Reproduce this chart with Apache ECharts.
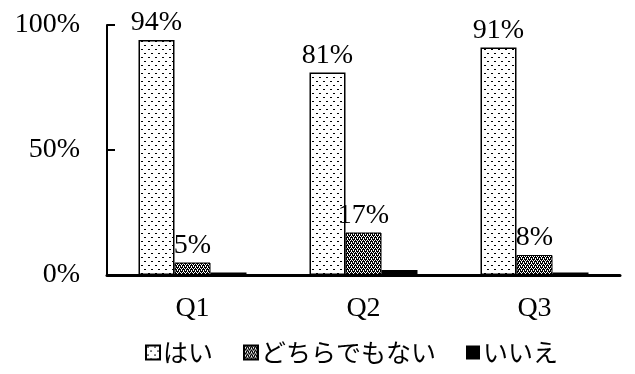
<!DOCTYPE html>
<html>
<head>
<meta charset="utf-8">
<script src="https://cdn.jsdelivr.net/npm/echarts@6/dist/echarts.min.js"></script>
<style>
html,body{margin:0;padding:0;background:#fff;}
#main{width:635px;height:374px;}
</style>
</head>
<body>
<div id="main"></div>
<script>
var categories = ['Q1', 'Q2', 'Q3'];
var yes_data = [94, 81, 91];
var neutral_data = [5, 17, 8];
var no_data = [1, 2, 1];
var y_ticks = [0, 50, 100];

// 点々の塗り
function dot_pattern(){
  var c = document.createElement('canvas');
  c.width = 7; c.height = 8;
  var ctx = c.getContext('2d');
  ctx.fillStyle = '#fff';
  ctx.fillRect(0, 0, 7, 8);
  ctx.fillStyle = '#000';
  ctx.fillRect(1, 1, 2, 1);
  ctx.fillRect(4, 5, 2, 1);
  return c;
}
// 格子の塗り
function check_pattern(){
  var c = document.createElement('canvas');
  c.width = 4; c.height = 4;
  var ctx = c.getContext('2d');
  ctx.fillStyle = '#000';
  ctx.fillRect(0, 0, 4, 4);
  ctx.fillStyle = '#fff';
  ctx.fillRect(0, 0, 1, 1);
  ctx.fillRect(2, 0, 1, 1);
  ctx.fillRect(1, 2, 1, 1);
  ctx.fillRect(3, 2, 1, 1);
  ctx.fillRect(1, 1, 1, 1);
  ctx.fillRect(3, 3, 1, 1);
  return c;
}

var serif = '"Liberation Serif", "DejaVu Serif", serif';
var labelStyle = {
  show: true,
  position: 'top',
  distance: 3,
  formatter: '{c}%',
  fontFamily: serif,
  fontSize: 28,
  color: '#000'
};

var myChart = echarts.init(document.getElementById('main'));
var option = {
  animation: false,
  grid: {left: 107, right: 15, top: 25, bottom: 99},
  legend: {
    left: 140,
    top: 335,
    itemWidth: 14,
    itemHeight: 14,
    itemGap: 30,
    icon: 'rect',
    textStyle: {
      fontFamily: '"Noto Sans CJK JP", sans-serif',
      fontSize: 25,
      color: '#000',
      padding: [0, 0, 0, -2]
    },
    data: ['はい', 'どちらでもない', 'いいえ']
  },
  xAxis: {
    type: 'category',
    data: categories,
    axisTick: {show: false},
    axisLine: {lineStyle: {color: '#000', width: 3}},
    axisLabel: {
      margin: 20,
      fontFamily: serif,
      fontSize: 28,
      color: '#000'
    }
  },
  yAxis: {
    type: 'value',
    min: y_ticks[0],
    max: y_ticks[2],
    interval: 50,
    splitLine: {show: false},
    axisLine: {show: true, lineStyle: {color: '#000', width: 2}},
    axisTick: {show: true, inside: true, length: 8, lineStyle: {color: '#000', width: 2}},
    axisLabel: {
      margin: 27,
      formatter: '{value}%',
      fontFamily: serif,
      fontSize: 28,
      color: '#000'
    }
  },
  series: [
    {
      name: 'はい',
      type: 'bar',
      barWidth: 36,
      barGap: '0%',
      data: yes_data,
      itemStyle: {
        color: {image: dot_pattern(), repeat: 'repeat'},
        borderColor: '#000',
        borderWidth: 1.5
      },
      label: labelStyle
    },
    {
      name: 'どちらでもない',
      type: 'bar',
      barWidth: 36,
      barGap: '0%',
      data: neutral_data,
      itemStyle: {
        color: {image: check_pattern(), repeat: 'repeat'},
        borderColor: '#000',
        borderWidth: 1
      },
      label: labelStyle
    },
    {
      name: 'いいえ',
      type: 'bar',
      barWidth: 36,
      barGap: '0%',
      data: no_data,
      itemStyle: {color: '#000'}
    }
  ]
};
myChart.setOption(option);
</script>
</body>
</html>
